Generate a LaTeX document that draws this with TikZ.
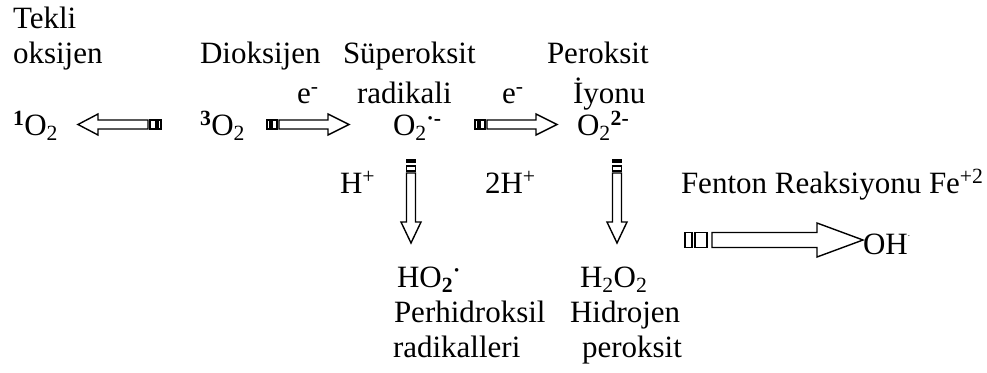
\documentclass[tikz,border=0pt]{standalone}
\usepackage{fontspec}
\setmainfont{Liberation Serif}
\begin{document}
\begin{tikzpicture}[x=1pt,y=-1pt,
  txt/.style={anchor=base west,inner sep=0pt,outer sep=0pt,font=\fontsize{31}{36}\selectfont},
  arrowline/.style={draw=black,line width=1.4pt,line join=miter,fill=white},
  pics/sarrow/.style n args={8}{code={
    \draw[arrowline] (0,-#2) rectangle (#5,#2);
    \draw[arrowline] (#6,-#2) rectangle (#7,#2);
    \draw[arrowline] (#8,-#2) -- (#1-#4,-#2) -- (#1-#4,-#3) -- (#1,0) -- (#1-#4,#3) -- (#1-#4,#2) -- (#8,#2) -- cycle;
  }}]
\useasboundingbox (0,0) rectangle (987,372);

% texts
\node[txt] (tekli) at (13,28) {Tekli};
\node[txt] (oksijen) at (13,63) {oksijen};
\node[txt] (dioks) at (200,63) {Dioksijen};
\node[txt] (superoks) at (343,63) {Süperoksit};
\node[txt] (peroks) at (547,63) {Peroksit};
\node[txt] (e1) at (297,103) {e\textsuperscript{-}};
\node[txt] (radikali) at (357,103) {radikali};
\node[txt] (e2) at (502,103) {e\textsuperscript{-}};
\node[txt] (iyonu) at (573,103) {İyonu};
\node[txt] (o1) at (13,135) {\textsuperscript{\textbf{1}}O\textsubscript{2}};
\node[txt] (o3) at (200,135) {\textsuperscript{\textbf{3}}O\textsubscript{2}};
\node[txt] (osup) at (393,135) {O\textsubscript{2}\textsuperscript{\textbf{·-}}};
\node[txt] (operox) at (577,135) {O\textsubscript{2}\textsuperscript{\textbf{2-}}};
\node[txt] (hplus) at (340,193) {H\textsuperscript{+}};
\node[txt] (twohplus) at (485,193) {2H\textsuperscript{+}};
\node[txt] (fenton) at (681,193) {Fenton Reaksiyonu Fe\textsuperscript{+2}};
\node[txt] (oh) at (863,254) {OH\raisebox{0.55em}{\small .}};
\node[txt] (ho2) at (397,287) {HO\textsubscript{\textbf{2}}\textsuperscript{\textbf{·}}};
\node[txt] (perhid) at (394,322) {Perhidroksil};
\node[txt] (radikalleri) at (393,357) {radikalleri};
\node[txt] (h2o2) at (580,287) {H\textsubscript{2}O\textsubscript{2}};
\node[txt] (hidrojen) at (570,322) {Hidrojen};
\node[txt] (peroksit) at (582,357) {peroksit};

% striped arrows
\pic[rotate=180] at (161,124.5) {sarrow={83}{4.5}{10.5}{20}{3}{5}{11}{13}};
\pic at (267,124.5) {sarrow={82}{4.5}{10.5}{21}{3}{5}{10}{12}};
\pic at (475,124.5) {sarrow={82}{4.5}{10.5}{21}{3}{5}{10}{12}};
\pic[rotate=-90] at (411,160) {sarrow={83}{4.5}{10}{21}{2}{6}{11}{13}};
\pic[rotate=-90] at (617,160) {sarrow={83}{4.5}{10}{21}{2}{6}{11}{13}};
\pic at (685,240) {sarrow={178}{7.5}{17}{46}{7}{10}{22}{27}};
\end{tikzpicture}
\end{document}
